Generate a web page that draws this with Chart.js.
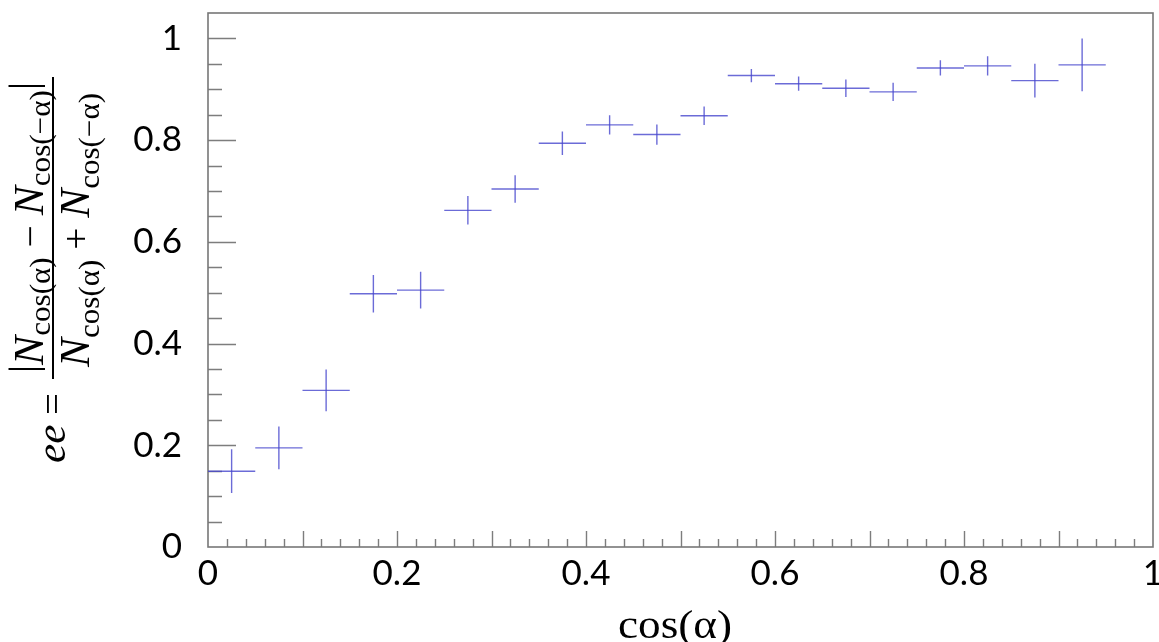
<!DOCTYPE html>
<html><head><meta charset="utf-8">
<script src="https://cdn.jsdelivr.net/npm/chart.js@4.4.1/dist/chart.umd.min.js"></script>
<style>html,body{margin:0;padding:0;background:#fff;overflow:hidden}#wrap{width:1159px;height:642px;position:relative}</style>
</head><body><div id="wrap"><canvas id="c" width="1159" height="642"></canvas></div>
<script>
// ---- data ----
const binCenters = [0.025,0.075,0.125,0.175,0.225,0.275,0.325,0.375,0.425,0.475,0.525,0.575,0.625,0.675,0.725,0.775,0.825,0.875,0.925];
const binHalfWidths = [0.025,0.025,0.025,0.025,0.025,0.025,0.025,0.025,0.025,0.025,0.025,0.025,0.025,0.025,0.025,0.025,0.025,0.025,0.025];
const eeValues = [0.149,0.195,0.308,0.498,0.505,0.662,0.704,0.794,0.830,0.811,0.848,0.927,0.911,0.902,0.895,0.942,0.946,0.917,0.948];
const eeErrors = [0.043,0.042,0.041,0.037,0.036,0.028,0.027,0.023,0.019,0.020,0.018,0.013,0.014,0.017,0.018,0.015,0.019,0.033,0.052];
const xTickValues = [0,0.2,0.4,0.6,0.8,1];
const xTickLabels = ['0','0.2','0.4','0.6','0.8','1'];
const yTickValues = [0,0.2,0.4,0.6,0.8,1];
const yTickLabels = ['0','0.2','0.4','0.6','0.8','1'];
const xTitle = 'cos(α)';

// ---- build error-cross segments from data ----
const hSeg = [], vSeg = [];
binCenters.forEach((c,i)=>{
  hSeg.push({x:c-binHalfWidths[i], y:eeValues[i]},{x:c+binHalfWidths[i], y:eeValues[i]},{x:c+binHalfWidths[i], y:null});
  vSeg.push({x:c, y:eeValues[i]-eeErrors[i]},{x:c, y:eeValues[i]+eeErrors[i]},{x:c, y:null});
});

const crossColor = 'rgba(70,70,205,0.8)';
const serif = '"Liberation Serif", serif';

const frameTicks = {
  id:'frameTicks',
  beforeDatasetsDraw(chart){
    const {ctx, chartArea:a, scales:{x,y}} = chart;
    ctx.save();
    ctx.strokeStyle='#7d7d7d'; ctx.lineWidth=1.4;
    ctx.beginPath();
    for(let k=1;k<50;k++){
      const px = Math.round(x.getPixelForValue(k/50))+0.5;
      const len = k%5===0?16:8;
      ctx.moveTo(px,a.bottom); ctx.lineTo(px,a.bottom-len);
    }
    for(let k=1;k<=20;k++){
      const py = Math.round(y.getPixelForValue(k*0.05))+0.5;
      const len = k%4===0?28:14;
      ctx.moveTo(a.left,py); ctx.lineTo(a.left+len,py);
    }
    ctx.stroke();
    ctx.lineWidth=1.6; ctx.strokeStyle='#777';
    ctx.strokeRect(a.left, a.top, a.right-a.left, a.bottom-a.top);
    ctx.restore();
  }
};

const titles = {
  id:'titles',
  afterDraw(chart){
    const ctx = chart.ctx, a = chart.chartArea;
    // x title
    ctx.save();
    ctx.fillStyle='#000'; ctx.textAlign='center'; ctx.textBaseline='alphabetic';
    ctx.font='40px '+serif;
    const w = ctx.measureText(xTitle).width;
    ctx.translate(675, 638);
    ctx.scale(114/w, 1);
    ctx.fillText(xTitle, 0, 0);
    ctx.restore();
    // y title (fraction)
    ctx.save();
    ctx.rotate(-Math.PI/2); // local (lx,ly) -> screen (ly,-lx)
    ctx.fillStyle='#000'; ctx.textAlign='left'; ctx.textBaseline='alphabetic';
    const fN='italic 42px '+serif, fOp='38px '+serif, fSub='30px '+serif, fBar='39px '+serif;
    function run(parts, targetLen, centerScreenY, baseScreenX){
      let w=0;
      parts.forEach(p=>{ctx.font=p.f; p.w=ctx.measureText(p.t).width; w+=p.w;});
      const s=targetLen/w;
      ctx.save();
      ctx.translate(-centerScreenY-targetLen/2, baseScreenX);
      ctx.scale(s,1);
      let cx=0;
      parts.forEach(p=>{ctx.font=p.f; ctx.fillText(p.t,cx,p.dy||0); cx+=p.w;});
      ctx.restore();
    }
    run([{t:'|',f:fBar,dy:-7},{t:'N',f:fN},{t:'cos(α)',f:fSub,dy:7},{t:' − ',f:fOp},{t:'N',f:fN},{t:'cos(−α)',f:fSub,dy:7},{t:'|',f:fBar,dy:-7}], 291, 227.5, 43);
    run([{t:'N',f:fN},{t:'cos(α)',f:fSub,dy:10},{t:' + ',f:fOp},{t:'N',f:fN},{t:'cos(−α)',f:fSub,dy:10}], 274, 230, 89);
    run([{t:'ee',f:fN},{t:' =',f:fOp}], 70, 428, 65);
    ctx.fillRect(-379, 52, 302, 2);
    ctx.restore();
  }
};

new Chart(document.getElementById('c'), {
  type:'line',
  data:{datasets:[
    {data:hSeg, borderColor:crossColor, borderWidth:1.4, pointRadius:0, spanGaps:false, tension:0, fill:false},
    {data:vSeg, borderColor:crossColor, borderWidth:1.4, pointRadius:0, spanGaps:false, tension:0, fill:false}
  ]},
  options:{
    responsive:false, animation:false, events:[],
    layout:{padding:{top:13, right:6, left:0, bottom:0}},
    plugins:{legend:{display:false}, tooltip:{enabled:false}},
    scales:{
      x:{type:'linear', min:0, max:1,
        grid:{display:false, drawTicks:false}, border:{display:false},
        afterBuildTicks:s=>{s.ticks = xTickValues.map(v=>({value:v}));},
        ticks:{autoSkip:false, maxRotation:0, padding:6, color:'#000', font:{family:'Lato', size:35},
          callback:(v)=>xTickLabels[xTickValues.indexOf(v)]},
        afterFit:s=>{s.height=95; s.paddingLeft=0; s.paddingRight=0;}
      },
      y:{type:'linear', min:0, max:1.05,
        grid:{display:false, drawTicks:false}, border:{display:false},
        afterBuildTicks:s=>{s.ticks = yTickValues.map(v=>({value:v}));},
        ticks:{autoSkip:false, padding:26, color:'#000', font:{family:'Lato', size:35},
          callback:(v)=>yTickLabels[yTickValues.indexOf(v)]},
        afterFit:s=>{s.width=208; s.paddingTop=0; s.paddingBottom=0;}
      }
    }
  },
  plugins:[frameTicks, titles]
});
</script></body></html>
